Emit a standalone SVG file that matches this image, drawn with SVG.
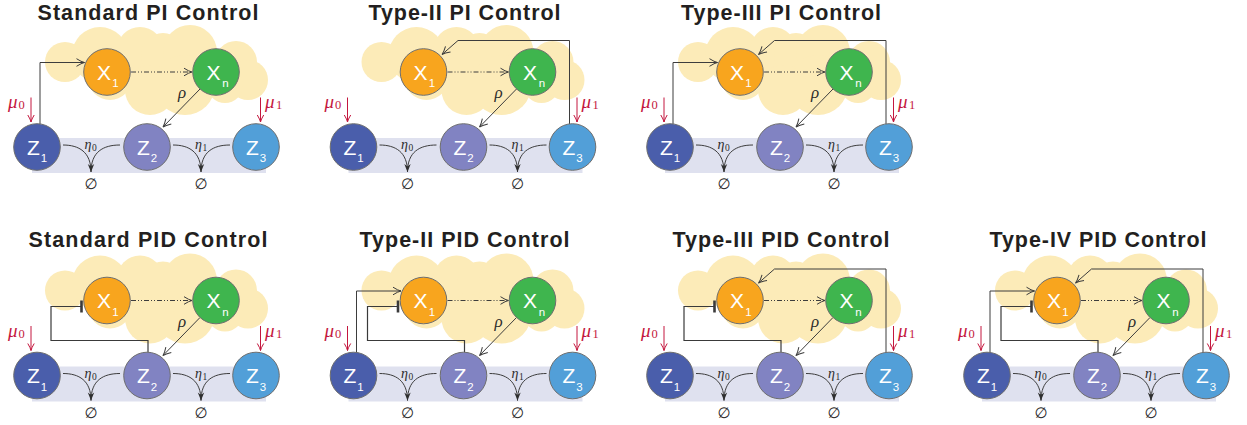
<svg xmlns="http://www.w3.org/2000/svg" xmlns:xlink="http://www.w3.org/1999/xlink" width="1247" height="425" viewBox="0 0 1247 425">
  <style>
    .title{font-family:"Liberation Sans",Arial,sans-serif;font-weight:bold;font-size:21.5px;fill:#231f20;text-anchor:middle}
    .band{fill:#dfe1ef}
    .node circle{stroke:#6e6e6e;stroke-width:1}
    .x1{fill:#f8a51e}.xn{fill:#3fb54e}.z1{fill:#4a5eab}.z2{fill:#8183c2}.z3{fill:#529fd8}
    .nl{font-family:"Liberation Sans",Arial,sans-serif;font-size:21px;fill:#fff;text-anchor:middle}
    .ns{font-family:"Liberation Sans",Arial,sans-serif;font-size:11.5px;fill:#fff;text-anchor:middle}
    .wire{fill:none;stroke:#3d3d3d;stroke-width:1}
    .dd{stroke-dasharray:5 2 1 2 1 2}
    .inh{fill:none;stroke:#3a3a3a;stroke-width:1.2}
    .bar{fill:none;stroke:#3a3a3a;stroke-width:2.6}
    .inp{fill:none;stroke:#c4173e;stroke-width:1}
    .mi{font-family:"Liberation Serif","DejaVu Serif",serif;font-style:italic;fill:#2b2b2b}
    .mr{font-family:"Liberation Serif","DejaVu Serif",serif;fill:#2b2b2b}
    .red{fill:#c4173e}
    .empty{font-family:"DejaVu Sans",sans-serif;font-size:15px;fill:#2b2b2b;text-anchor:middle}
  </style>
  <defs>
    <marker id="open" markerUnits="userSpaceOnUse" markerWidth="12" markerHeight="12" viewBox="-10 -6 12 12" refX="0" refY="0" orient="auto" overflow="visible">
      <path d="M-8,-3.8 Q-3,-0.6 0,0 Q-3,0.6 -8,3.8" fill="none" stroke="#3d3d3d" stroke-width="1"/>
    </marker>
    <marker id="openRed" markerUnits="userSpaceOnUse" markerWidth="12" markerHeight="12" viewBox="-10 -6 12 12" refX="0" refY="0" orient="auto" overflow="visible">
      <path d="M-7,-3.2 Q-2.5,-0.5 0,0 Q-2.5,0.5 -7,3.2" fill="none" stroke="#c4173e" stroke-width="1"/>
    </marker>
    <marker id="stealth" markerUnits="userSpaceOnUse" markerWidth="12" markerHeight="12" viewBox="-10 -6 12 12" refX="0" refY="0" orient="auto" overflow="visible">
      <path d="M0,0 L-8,-3.2 L-5.5,0 L-8,3.2 Z" fill="#2f2f2f"/>
    </marker>
    <!-- cloud behind the X species -->
    <g id="cloud" fill="#fcebb8">
      <circle cx="65" cy="62" r="20"/>
      <circle cx="100" cy="55" r="28"/>
      <circle cx="140" cy="50" r="23"/>
      <circle cx="163" cy="55" r="22"/>
      <circle cx="190" cy="52" r="27"/>
      <circle cx="236" cy="62" r="21"/>
      <circle cx="248" cy="80" r="20"/>
      <circle cx="225" cy="85" r="18"/>
      <circle cx="185" cy="85" r="30"/>
      <circle cx="150" cy="90" r="25"/>
      <circle cx="110" cy="78" r="22"/>
    </g>
    <!-- parts shared by every panel -->
    <g id="common-wires">
      <path class="wire dd" d="M131,72 H192" marker-end="url(#open)"/>
      <path class="wire" d="M200,89 L163,127" marker-end="url(#open)"/>
      <path class="wire" d="M63,145 C79,145 91,152 91,172"/>
      <path class="wire" d="M120,145 C103,145 91,152 91,172" marker-end="url(#stealth)"/>
      <path class="wire" d="M173,145 C189,145 201,152 201,172"/>
      <path class="wire" d="M230,145 C213,145 201,152 201,172" marker-end="url(#stealth)"/>
      <path class="inp" d="M31,97.5 V122" marker-end="url(#openRed)"/>
      <path class="inp" d="M260.5,97.5 V122" marker-end="url(#openRed)"/>
    </g>
    <g id="act"><path class="wire" d="M40,124 V62.5 H84.5" marker-end="url(#open)"/></g>
    <g id="fb"><path class="wire" d="M253,124 V40.5 H141.5 L125.5,54.5" marker-end="url(#open)"/></g>
    <g id="inh"><path class="inh" d="M148,124 V112 H51 V78 H81"/><path class="bar" d="M81.5,72 V84"/></g>
    <g id="labels">
      <text class="mi" x="182" y="98" font-size="17" text-anchor="middle">ρ</text>
      <text class="mi" x="84.5" y="149" font-size="14">η</text><text class="mr" x="92" y="151" font-size="9.5">0</text>
      <text class="mi" x="195" y="149" font-size="14">η</text><text class="mr" x="202.5" y="151" font-size="9.5">1</text>
      <text class="empty" x="91" y="189">∅</text>
      <text class="empty" x="201" y="189">∅</text>
      <text class="mi red" x="8" y="108" font-size="19">μ</text><text class="mr red" x="18.5" y="109" font-size="12.5">0</text>
      <text class="mi red" x="265" y="108" font-size="19">μ</text><text class="mr red" x="276" y="109" font-size="12.5">1</text>
    </g>
    <g id="nodes">
      <g class="node"><circle class="x1" cx="107" cy="72" r="23.3"/><text class="nl" x="104" y="79.5">X</text><text class="ns" x="115.5" y="87">1</text></g>
      <g class="node"><circle class="xn" cx="216" cy="72" r="23.3"/><text class="nl" x="213.5" y="79.5">X</text><text class="ns" x="225.5" y="87">n</text></g>
      <g class="node"><circle class="z1" cx="37" cy="147" r="23.3"/><text class="nl" x="33.5" y="154.5">Z</text><text class="ns" x="44" y="162">1</text></g>
      <g class="node"><circle class="z2" cx="147" cy="147" r="23.3"/><text class="nl" x="143.5" y="154.5">Z</text><text class="ns" x="154" y="162">2</text></g>
      <g class="node"><circle class="z3" cx="256" cy="147" r="23.3"/><text class="nl" x="252.5" y="154.5">Z</text><text class="ns" x="263" y="162">3</text></g>
    </g>
  </defs>

  <!-- Standard PI -->
  <g id="std-pi">
    <text class="title" x="148" y="19.5" textLength="221" lengthAdjust="spacing">Standard PI Control</text>
    <use href="#cloud"/>
    <rect class="band" x="32" y="138" width="234" height="35"/>
    <g id="std-pi-connectors"><use href="#common-wires"/><use href="#act"/></g>
    <g id="std-pi-nodes"><use href="#nodes"/></g>
    <use href="#labels"/>
  </g>

  <!-- Type-II PI -->
  <g id="t2-pi" transform="translate(316.5,0)">
    <text class="title" x="148" y="19.5" textLength="192" lengthAdjust="spacing">Type-II PI Control</text>
    <use href="#cloud"/>
    <rect class="band" x="32" y="138" width="234" height="35"/>
    <g id="t2-pi-connectors"><use href="#common-wires"/><use href="#fb"/></g>
    <g id="t2-pi-nodes"><use href="#nodes"/></g>
    <use href="#labels"/>
  </g>

  <!-- Type-III PI -->
  <g id="t3-pi" transform="translate(633,0)">
    <text class="title" x="148" y="19.5" textLength="200" lengthAdjust="spacing">Type-III PI Control</text>
    <use href="#cloud"/>
    <rect class="band" x="32" y="138" width="234" height="35"/>
    <g id="t3-pi-connectors"><use href="#common-wires"/><use href="#act"/><use href="#fb"/></g>
    <g id="t3-pi-nodes"><use href="#nodes"/></g>
    <use href="#labels"/>
  </g>

  <!-- Standard PID -->
  <g id="std-pid" transform="translate(0,228.5)">
    <text class="title" x="148" y="18.5" textLength="239" lengthAdjust="spacing">Standard PID Control</text>
    <use href="#cloud"/>
    <rect class="band" x="32" y="138" width="234" height="35"/>
    <g id="std-pid-connectors"><use href="#common-wires"/><use href="#inh"/></g>
    <g id="std-pid-nodes"><use href="#nodes"/></g>
    <use href="#labels"/>
  </g>

  <!-- Type-II PID -->
  <g id="t2-pid" transform="translate(316.5,228.5)">
    <text class="title" x="148" y="18.5" textLength="210" lengthAdjust="spacing">Type-II PID Control</text>
    <use href="#cloud"/>
    <rect class="band" x="32" y="138" width="234" height="35"/>
    <g id="t2-pid-connectors"><use href="#common-wires"/><use href="#act"/><use href="#inh"/></g>
    <g id="t2-pid-nodes"><use href="#nodes"/></g>
    <use href="#labels"/>
  </g>

  <!-- Type-III PID -->
  <g id="t3-pid" transform="translate(633,228.5)">
    <text class="title" x="148" y="18.5" textLength="217" lengthAdjust="spacing">Type-III PID Control</text>
    <use href="#cloud"/>
    <rect class="band" x="32" y="138" width="234" height="35"/>
    <g id="t3-pid-connectors"><use href="#common-wires"/><use href="#inh"/><use href="#fb"/></g>
    <g id="t3-pid-nodes"><use href="#nodes"/></g>
    <use href="#labels"/>
  </g>

  <!-- Type-IV PID -->
  <g id="t4-pid" transform="translate(950,228.5)">
    <text class="title" x="148" y="18.5" textLength="217" lengthAdjust="spacing">Type-IV PID Control</text>
    <use href="#cloud"/>
    <rect class="band" x="32" y="138" width="234" height="35"/>
    <g id="t4-pid-connectors"><use href="#common-wires"/><use href="#act"/><use href="#inh"/><use href="#fb"/></g>
    <g id="t4-pid-nodes"><use href="#nodes"/></g>
    <use href="#labels"/>
  </g>
</svg>
